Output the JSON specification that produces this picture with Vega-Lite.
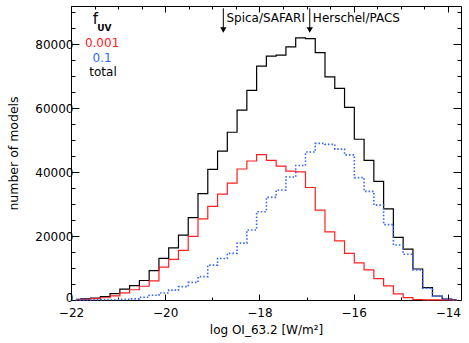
{
  "$schema": "https://vega.github.io/schema/vega-lite/v6.json",
  "width": 390,
  "height": 294,
  "autosize": {"type": "none"},
  "padding": {"left": 71, "top": 6, "right": 8, "bottom": 43},
  "background": "white",
  "config": {
    "view": {"stroke": "#000", "strokeWidth": 1},
    "font": "DejaVu Sans",
    "axis": {"domain": false, "grid": false, "tickColor": "#000", "tickWidth": 1, "labelColor": "#000", "titleColor": "#000", "labelFontSize": 12, "titleFontSize": 12, "titleFontWeight": "normal", "labelOverlap": false, "labelBound": false, "labelFlush": false}
  },
  "data": {"values": [
    {"x": -21.896, "t": 200, "r": 80, "b": 50},
    {"x": -21.689, "t": 350, "r": 150, "b": 50},
    {"x": -21.481, "t": 600, "r": 400, "b": 60},
    {"x": -21.274, "t": 1100, "r": 700, "b": 80},
    {"x": -21.066, "t": 2000, "r": 1300, "b": 100},
    {"x": -20.859, "t": 3400, "r": 2200, "b": 200},
    {"x": -20.652, "t": 4500, "r": 3200, "b": 350},
    {"x": -20.444, "t": 6100, "r": 4300, "b": 850},
    {"x": -20.237, "t": 9200, "r": 6000, "b": 1500},
    {"x": -20.029, "t": 13000, "r": 10300, "b": 2200},
    {"x": -19.822, "t": 16300, "r": 12700, "b": 3100},
    {"x": -19.615, "t": 20300, "r": 15500, "b": 4200},
    {"x": -19.407, "t": 25800, "r": 19900, "b": 5500},
    {"x": -19.200, "t": 33300, "r": 25400, "b": 7300},
    {"x": -18.992, "t": 40900, "r": 29300, "b": 10900},
    {"x": -18.785, "t": 46600, "r": 33100, "b": 13000},
    {"x": -18.578, "t": 52500, "r": 36600, "b": 14600},
    {"x": -18.370, "t": 59400, "r": 41000, "b": 17800},
    {"x": -18.163, "t": 65600, "r": 43500, "b": 21900},
    {"x": -17.955, "t": 73200, "r": 45500, "b": 27600},
    {"x": -17.748, "t": 76300, "r": 43700, "b": 32100},
    {"x": -17.541, "t": 76600, "r": 41900, "b": 34400},
    {"x": -17.333, "t": 79200, "r": 40300, "b": 38500},
    {"x": -17.126, "t": 82000, "r": 40100, "b": 42100},
    {"x": -16.918, "t": 81800, "r": 35200, "b": 46300},
    {"x": -16.711, "t": 77400, "r": 28100, "b": 49000},
    {"x": -16.504, "t": 69800, "r": 21300, "b": 48700},
    {"x": -16.296, "t": 66200, "r": 18500, "b": 47200},
    {"x": -16.089, "t": 60300, "r": 14600, "b": 45400},
    {"x": -15.881, "t": 50300, "r": 11600, "b": 38300},
    {"x": -15.674, "t": 43700, "r": 9400, "b": 34000},
    {"x": -15.467, "t": 37100, "r": 6700, "b": 29700},
    {"x": -15.259, "t": 28500, "r": 4400, "b": 23600},
    {"x": -15.052, "t": 19600, "r": 1900, "b": 17200},
    {"x": -14.844, "t": 15900, "r": 750, "b": 14300},
    {"x": -14.637, "t": 9700, "r": 150, "b": 9400},
    {"x": -14.430, "t": 3900, "r": 60, "b": 3700},
    {"x": -14.222, "t": 1250, "r": 30, "b": 1200},
    {"x": -14.015, "t": 250, "r": 10, "b": 200},
    {"x": -13.807, "t": 50, "r": 0, "b": 50}
  ]},
  "layer": [
    {
      "mark": {"type": "line", "interpolate": "step", "color": "#000", "strokeWidth": 1.2},
      "encoding": {
        "x": {"field": "x", "type": "quantitative", "scale": {"domain": [-22, -13.72], "nice": false, "zero": false},
          "axis": {"orient": "bottom", "values": [-22, -21.5, -21, -20.5, -20, -19.5, -19, -18.5, -18, -17.5, -17, -16.5, -16, -15.5, -15, -14.5, -14],
            "format": "d", "labelExpr": "datum.value % 2 === 0 ? datum.label : ''",
            "tickSize": {"condition": {"test": "datum.value % 2 === 0", "value": -6}, "value": -3},
            "labelPadding": 13, "title": "log OI_63.2 [W/m²]", "titleX": 195, "titleY": 29, "titleBaseline": "middle", "titleAlign": "center"}},
        "y": {"field": "t", "type": "quantitative", "scale": {"domain": [0, 92000], "nice": false},
          "axis": {"orient": "left", "values": [0, 5000, 10000, 15000, 20000, 25000, 30000, 35000, 40000, 45000, 50000, 55000, 60000, 65000, 70000, 75000, 80000, 85000, 90000],
            "format": "d", "labelExpr": "datum.value % 20000 === 0 ? datum.label : ''",
            "labelOffset": {"condition": {"test": "datum.value === 0", "value": -3}, "value": 0},
            "tickSize": {"condition": {"test": "datum.value % 20000 === 0", "value": -8}, "value": -4},
            "labelPadding": 6, "title": "number of models", "titleFontSize": 12.5, "titleX": -58, "titleY": 147, "titleAngle": 270, "titleBaseline": "middle", "titleAlign": "center"}}
      }
    },
    {
      "mark": {"type": "line", "interpolate": "step", "color": "#ff2020", "strokeWidth": 1.2},
      "encoding": {
        "x": {"field": "x", "type": "quantitative",
          "axis": {"orient": "top", "values": [-22, -21.5, -21, -20.5, -20, -19.5, -19, -18.5, -18, -17.5, -17, -16.5, -16, -15.5, -15, -14.5, -14],
            "labels": false, "title": null,
            "tickSize": {"condition": {"test": "datum.value % 2 === 0", "value": -6}, "value": -3}}},
        "y": {"field": "r", "type": "quantitative",
          "axis": {"orient": "right", "values": [0, 5000, 10000, 15000, 20000, 25000, 30000, 35000, 40000, 45000, 50000, 55000, 60000, 65000, 70000, 75000, 80000, 85000, 90000],
            "labels": false, "title": null,
            "tickSize": {"condition": {"test": "datum.value % 20000 === 0", "value": -8}, "value": -4}}}
      }
    },
    {
      "mark": {"type": "line", "interpolate": "step", "color": "#2f66ff", "strokeWidth": 1.6, "strokeDash": [1.5, 2]},
      "encoding": {
        "x": {"field": "x", "type": "quantitative", "axis": null},
        "y": {"field": "b", "type": "quantitative", "axis": null}
      }
    },
    {
      "data": {"values": [{}]},
      "mark": {"type": "rule", "color": "#000", "strokeWidth": 1},
      "encoding": {"x": {"datum": -18.766, "type": "quantitative", "axis": null}, "y": {"datum": 91300, "type": "quantitative", "axis": null}, "y2": {"datum": 84800}}
    },
    {
      "data": {"values": [{}]},
      "mark": {"type": "rule", "color": "#000", "strokeWidth": 1},
      "encoding": {"x": {"datum": -16.931, "type": "quantitative", "axis": null}, "y": {"datum": 91300, "type": "quantitative", "axis": null}, "y2": {"datum": 84800}}
    },
    {
      "data": {"values": [{}]},
      "mark": {"type": "point", "shape": "triangle-down", "filled": true, "color": "#000", "size": 40, "opacity": 1},
      "encoding": {"x": {"datum": -18.766, "type": "quantitative", "axis": null}, "y": {"datum": 84500, "type": "quantitative", "axis": null}}
    },
    {
      "data": {"values": [{}]},
      "mark": {"type": "point", "shape": "triangle-down", "filled": true, "color": "#000", "size": 40, "opacity": 1},
      "encoding": {"x": {"datum": -16.931, "type": "quantitative", "axis": null}, "y": {"datum": 84500, "type": "quantitative", "axis": null}}
    },
    {
      "data": {"values": [{}]},
      "mark": {"type": "text", "text": "Spica/SAFARI", "align": "left", "baseline": "middle", "fontSize": 12, "color": "#000"},
      "encoding": {"x": {"datum": -18.70, "type": "quantitative", "axis": null}, "y": {"datum": 88400, "type": "quantitative", "axis": null}}
    },
    {
      "data": {"values": [{}]},
      "mark": {"type": "text", "text": "Herschel/PACS", "align": "left", "baseline": "middle", "fontSize": 12, "color": "#000"},
      "encoding": {"x": {"datum": -16.865, "type": "quantitative", "axis": null}, "y": {"datum": 88400, "type": "quantitative", "axis": null}}
    },
    {
      "data": {"values": [{}]},
      "mark": {"type": "text", "text": "f", "align": "center", "baseline": "middle", "fontSize": 15, "color": "#000"},
      "encoding": {"x": {"datum": -21.48, "type": "quantitative", "axis": null}, "y": {"datum": 87800, "type": "quantitative", "axis": null}}
    },
    {
      "data": {"values": [{}]},
      "mark": {"type": "text", "text": "UV", "align": "center", "baseline": "middle", "fontSize": 9, "fontWeight": "bold", "color": "#000"},
      "encoding": {"x": {"datum": -21.29, "type": "quantitative", "axis": null}, "y": {"datum": 85000, "type": "quantitative", "axis": null}}
    },
    {
      "data": {"values": [{}]},
      "mark": {"type": "text", "text": "0.001", "align": "center", "baseline": "middle", "fontSize": 12, "color": "#ff2020"},
      "encoding": {"x": {"datum": -21.34, "type": "quantitative", "axis": null}, "y": {"datum": 80300, "type": "quantitative", "axis": null}}
    },
    {
      "data": {"values": [{}]},
      "mark": {"type": "text", "text": "0.1", "align": "center", "baseline": "middle", "fontSize": 12, "color": "#2f66ff"},
      "encoding": {"x": {"datum": -21.34, "type": "quantitative", "axis": null}, "y": {"datum": 75600, "type": "quantitative", "axis": null}}
    },
    {
      "data": {"values": [{}]},
      "mark": {"type": "text", "text": "total", "align": "center", "baseline": "middle", "fontSize": 12, "color": "#000"},
      "encoding": {"x": {"datum": -21.32, "type": "quantitative", "axis": null}, "y": {"datum": 71200, "type": "quantitative", "axis": null}}
    }
  ],
  "resolve": {"axis": {"x": "independent", "y": "independent"}}
}
